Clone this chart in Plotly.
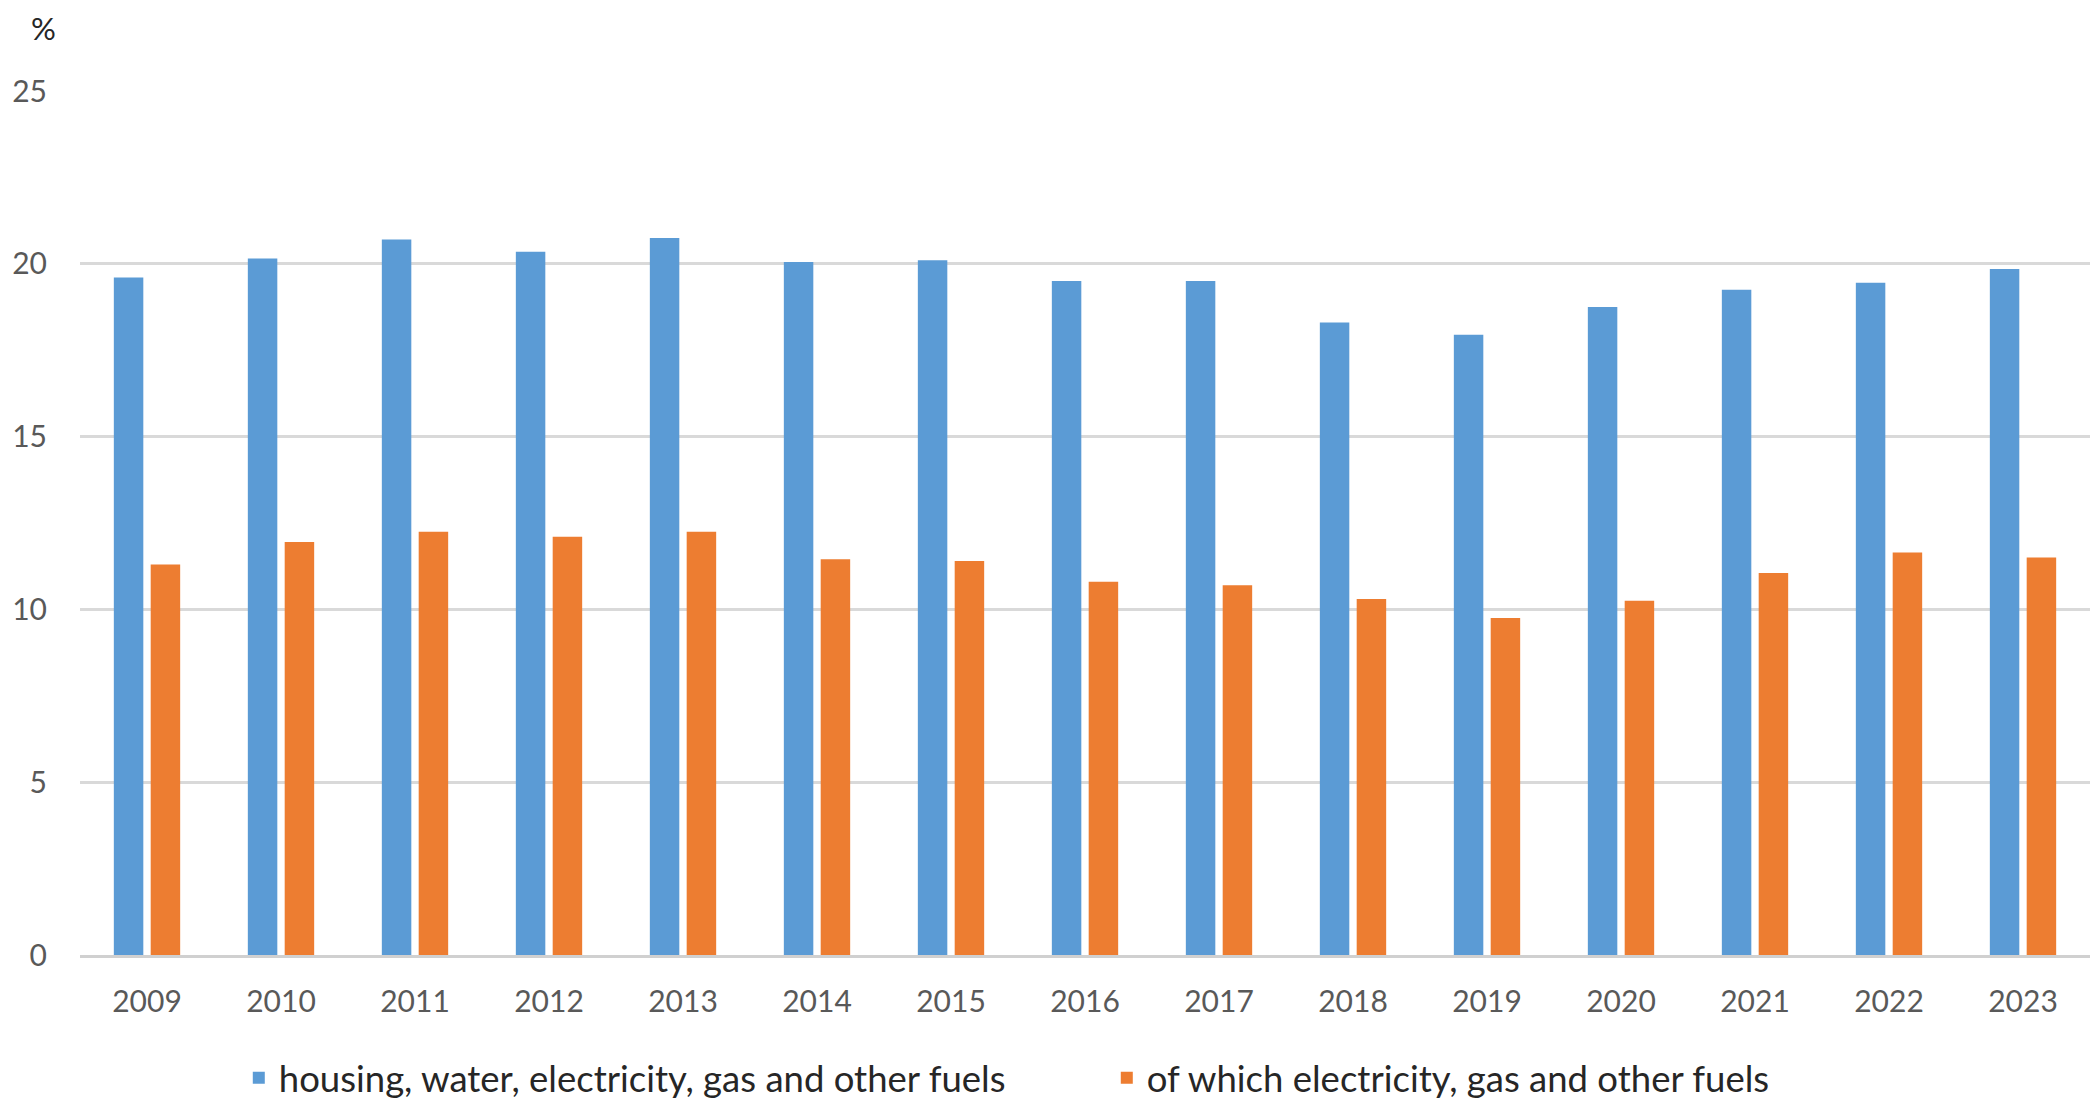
import plotly.graph_objects as go

years = ["2009", "2010", "2011", "2012", "2013", "2014", "2015", "2016",
         "2017", "2018", "2019", "2020", "2021", "2022", "2023"]
housing = [19.6, 20.15, 20.7, 20.35, 20.75, 20.05, 20.1, 19.5,
           19.5, 18.3, 17.95, 18.75, 19.25, 19.45, 19.85]
energy = [11.3, 11.95, 12.25, 12.1, 12.25, 11.45, 11.4, 10.8,
          10.7, 10.3, 9.75, 10.25, 11.05, 11.65, 11.5]
series_names = ["housing, water, electricity, gas and other fuels",
                "of which electricity, gas and other fuels"]
y_ticks = [0, 5, 10, 15, 20, 25]

FONT = "Lato, 'Noto Sans', sans-serif"

fig = go.Figure()
fig.add_trace(go.Bar(x=years, y=housing, name=series_names[0],
                     marker=dict(color="#5B9BD5", line=dict(width=0))))
fig.add_trace(go.Bar(x=years, y=energy, name=series_names[1],
                     marker=dict(color="#ED7D31", line=dict(width=0))))

fig.update_layout(
    width=2090, height=1092,
    margin=dict(l=72, r=8, t=83, b=145, autoexpand=False),
    paper_bgcolor="white", plot_bgcolor="white",
    barmode="group", bargap=0.45, bargroupgap=0.2,
    font=dict(family=FONT, size=30, color="#595959"),
    showlegend=True,
    legend=dict(orientation="h", x=0.079, xanchor="left", y=-0.1424, yanchor="middle",
                font=dict(size=36.5, color="#262626"), entrywidth=823,
                traceorder="normal", bgcolor="rgba(0,0,0,0)"),
    annotations=[dict(text="%", xref="paper", yref="paper", x=-0.0254, y=1.0729,
                      xanchor="left", yanchor="middle", showarrow=False,
                      font=dict(size=31, color="#262626", family=FONT))],
)
fig.update_xaxes(showgrid=False, showline=True, linecolor="#d0d0d0", linewidth=3,
                 ticks="", tickfont=dict(size=30, color="#595959"),
                 ticklabelstandoff=18, automargin=False)
fig.update_yaxes(range=[0, 25], tickvals=y_ticks, showgrid=True, gridcolor="#d9d9d9",
                 gridwidth=3, zeroline=False, showline=False, ticks="",
                 tickfont=dict(size=30, color="#595959"), ticklabelstandoff=32,
                 automargin=False)

fig.write_html("out.html")
